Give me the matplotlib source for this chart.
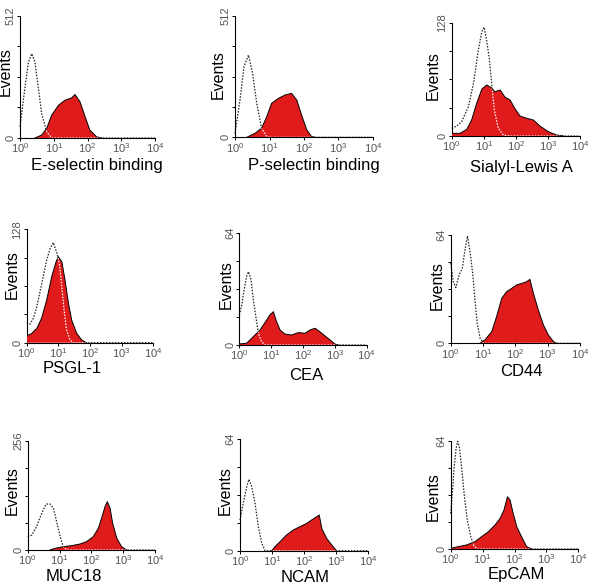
import numpy as np
import matplotlib
matplotlib.use("Agg")
from matplotlib import pyplot as plt
from matplotlib.ticker import FixedLocator, NullLocator, LogLocator, LogFormatterSciNotation

plt.rcParams['font.family'] = ['Liberation Sans', 'DejaVu Sans']
plt.rcParams['mathtext.fontset'] = 'custom'
plt.rcParams['mathtext.rm'] = 'Liberation Sans'
plt.rcParams['mathtext.it'] = 'Liberation Sans:italic'
plt.rcParams['mathtext.bf'] = 'Liberation Sans:bold'

# fluorescence in decades (log10), events counts
markers = ["E-selectin binding", "P-selectin binding", "Sialyl-Lewis A",
           "PSGL-1", "CEA", "CD44",
           "MUC18", "NCAM", "EpCAM"]
ymax = [512, 512, 128, 128, 64, 64, 256, 64, 64]

# isotype control (dotted)
ctrl_x = [
    [0, 0.15, 0.25, 0.35, 0.44, 0.54, 0.64, 0.79, 0.94, 4],
    [0, 0.145, 0.26, 0.39, 0.51, 0.63, 0.77, 0.92, 1.01, 4],
    [0, 0.16, 0.31, 0.52, 0.68, 0.83, 0.94, 1.01, 1.09, 1.17, 1.25, 1.33, 1.45, 1.61, 1.82, 4],
    [0, 0.105, 0.21, 0.32, 0.42, 0.53, 0.63, 0.74, 0.84, 0.95, 1.03, 1.11, 1.18, 1.26, 1.37, 1.47, 4],
    [0, 0.07, 0.15, 0.23, 0.29, 0.37, 0.44, 0.52, 0.6, 0.7, 0.81, 4],
    [0, 0.08, 0.16, 0.26, 0.36, 0.44, 0.52, 0.6, 0.68, 0.75, 0.82, 0.91, 1.01, 4],
    [0, 0.13, 0.28, 0.44, 0.58, 0.7, 0.81, 0.91, 1.02, 1.12, 1.23, 4],
    [0, 0.1, 0.21, 0.28, 0.36, 0.47, 0.57, 0.68, 0.78, 4],
    [0, 0.06, 0.11, 0.17, 0.22, 0.27, 0.34, 0.43, 0.52, 0.63, 0.73, 0.84, 4],
]
ctrl_y = [
    [47, 214, 318, 353, 318, 214, 103, 26, 0, 0],
    [17, 157, 297, 346, 269, 143, 38, 3, 0, 0],
    [8.7, 11.3, 16.2, 33, 59.5, 97, 118, 123, 108, 88, 58, 29, 9, 1, 0, 0],
    [22.6, 21, 27.5, 40.7, 57.6, 76, 93, 106.5, 113, 101.6, 89.6, 63, 37, 14.3, 3, 0, 0],
    [17.2, 22, 31.5, 39.5, 42, 37.3, 25.8, 16.2, 6.7, 1.9, 0, 0],
    [47.3, 36.4, 33, 40.4, 44.3, 55, 63.4, 54, 41.4, 25.6, 11.8, 3, 0, 0],
    [31.3, 35.2, 54.8, 86, 108, 108, 98, 66.5, 31.3, 7.8, 0, 0],
    [17.6, 27.2, 36.8, 41, 37.2, 27.2, 13.8, 4.2, 0, 0],
    [21, 34.9, 48.6, 59.5, 63.6, 60.5, 48.6, 30.9, 17.1, 7.3, 1.8, 0, 0],
]

# stained sample (red filled)
stain_x = [
    [0.44, 0.64, 0.79, 0.94, 1.14, 1.33, 1.53, 1.63, 1.78, 1.93, 2.07, 2.27, 2.42],
    [0.34, 0.58, 0.77, 0.92, 1.06, 1.26, 1.45, 1.64, 1.79, 1.93, 2.08, 2.22, 2.32],
    [0, 0.26, 0.47, 0.62, 0.78, 0.94, 1.09, 1.22, 1.35, 1.51, 1.66, 1.82, 1.97, 2.13, 2.34,
     2.55, 2.75, 3.01, 3.27, 3.48],
    [0, 0.16, 0.32, 0.47, 0.63, 0.79, 0.93, 1.0, 1.11, 1.21, 1.32, 1.42, 1.58, 1.74, 1.89],
    [0, 0.23, 0.44, 0.65, 0.86, 0.96, 1.07, 1.17, 1.28, 1.43, 1.64, 1.85, 2.06, 2.22, 2.38,
     2.53, 2.69, 2.85, 3.0, 3.11],
    [0.91, 1.06, 1.27, 1.42, 1.58, 1.73, 1.89, 2.04, 2.2, 2.35, 2.45, 2.56, 2.71, 2.87, 3.02,
     3.18, 3.28],
    [0.7, 0.86, 1.12, 1.38, 1.64, 1.85, 2.06, 2.22, 2.32, 2.43, 2.5, 2.59, 2.67, 2.8, 2.95, 3.11],
    [0.99, 1.09, 1.25, 1.45, 1.66, 1.87, 2.08, 2.23, 2.39, 2.47, 2.55, 2.7, 2.86, 3.01],
    [0, 0.24, 0.5, 0.76, 0.97, 1.18, 1.39, 1.55, 1.67, 1.78, 1.86, 1.96, 2.07, 2.22, 2.38, 2.54],
]
stain_y = [
    [0, 12, 40, 96, 137, 158, 168, 182, 151, 89, 33, 5, 0],
    [0, 17, 38, 87, 143, 164, 178, 185, 157, 94, 31, 3, 0],
    [3, 3, 7.5, 18, 37, 53, 57.6, 55, 50, 52, 44, 40.7, 31, 22.6, 20, 18, 11.3, 4.9, 1.1, 0],
    [7.5, 10.5, 16.2, 27.5, 48, 74.5, 91.5, 97, 91.5, 71, 44.4, 25.6, 10.5, 3, 0],
    [0.6, 1, 4.8, 8.6, 14.3, 17.2, 19.1, 13.4, 8.6, 6.3, 5.7, 7.1, 6.7, 8.6, 9.6, 7.6, 5.2,
     2.9, 0.6, 0],
    [0, 2, 6.9, 15.8, 26.6, 30.5, 32.5, 34.5, 35.4, 36.4, 37.8, 29.5, 19.7, 10.8, 4.9, 1, 0],
    [0, 3.9, 7.8, 10.2, 14, 19.6, 31.3, 51, 74, 102, 113.5, 98, 62.6, 27.4, 7.8, 0],
    [0, 2.3, 5.2, 9, 11.9, 13.8, 15.7, 17.6, 19.5, 20.5, 12.8, 7.1, 3.3, 0],
    [0.4, 1.4, 2.4, 4.3, 7.3, 10.2, 14.2, 18.1, 23, 30.9, 29, 21, 13.2, 7.3, 1.4, 0],
]

# layout (pixels): axes box left, right, top, bottom
boxes = [
    (20, 155, 15.7, 138), (235, 373, 15.7, 137.3), (451.7, 580, 22.7, 136),
    (26.7, 153.3, 229.3, 342.7), (239.3, 366.7, 233.3, 345), (450.7, 580, 235, 343.3),
    (27.7, 155, 441, 550), (240, 368.3, 439.3, 550.7), (450.7, 578.3, 440.7, 549),
]
xlabel_cx = [97, 314, 521, 72, 306, 521, 74, 305, 516]
xlabel_base = [32, 33, 36, 30, 35, 33, 31, 31, 30]
ylabel_off = [7, 8.8, 10.8, 6.8, 5.8, 5.8, 7.8, 6.8, 9.8]
ylabel_up = [5, 1.5, 4, 11, 5, 4, 5, 4, -2]

W, H = 610, 587
fig = plt.figure(figsize=(W / 100, H / 100), dpi=100)
red = '#e01b1b'
tick_grey = '#555555'

for i in range(9):
    l, r, t, b = boxes[i]
    ax = fig.add_axes([l / W, 1 - b / H, (r - l) / W, (b - t) / H])
    cx = 10 ** np.array(ctrl_x[i])
    cy = np.array(ctrl_y[i])
    sx = 10 ** np.array(stain_x[i])
    sy = np.array(stain_y[i])

    ax.plot(cx, cy, color='#222222', lw=0.9, ls=(0, (1.2, 1.2)), zorder=2, clip_on=False)
    poly = ax.fill_between(sx, 0, sy, facecolor=red, edgecolor='none', zorder=3)
    ax.plot(sx, sy, color='black', lw=0.7, zorder=4)
    wl, = ax.plot(cx, cy, color='white', lw=0.9, ls=(0, (1.2, 1.2)), zorder=5)
    wl.set_clip_path(poly.get_paths()[0], transform=ax.transData)

    ax.set_xscale('log')
    ax.set_xlim(1, 1e4)
    ax.set_ylim(0, ymax[i])
    ax.xaxis.set_major_locator(LogLocator(base=10, numticks=10))
    ax.xaxis.set_major_formatter(LogFormatterSciNotation())
    ax.xaxis.set_minor_locator(NullLocator())
    ax.yaxis.set_major_locator(FixedLocator([0, ymax[i]]))
    ax.yaxis.set_minor_locator(FixedLocator([ymax[i] / 4, ymax[i] / 2, 3 * ymax[i] / 4]))
    ax.set_yticklabels(['0', str(ymax[i])], rotation=90, va='center')

    for s in ['top', 'right']:
        ax.spines[s].set_visible(False)
    for s in ['left', 'bottom']:
        ax.spines[s].set_linewidth(0.8)
    ax.tick_params(which='both', length=2, width=0.7, labelsize=8, labelcolor=tick_grey,
                   pad=1)
    ax.tick_params(axis='x', pad=0.5)

    ax.set_ylabel("Events", fontsize=11.5)
    ax.yaxis.set_label_coords(-ylabel_off[i] / (r - l), 0.5 + ylabel_up[i] / (b - t))
    fig.text(xlabel_cx[i] / W, 1 - (b + xlabel_base[i]) / H, markers[i],
             ha='center', va='baseline', fontsize=12)

fig.savefig("out.png", dpi=100)
